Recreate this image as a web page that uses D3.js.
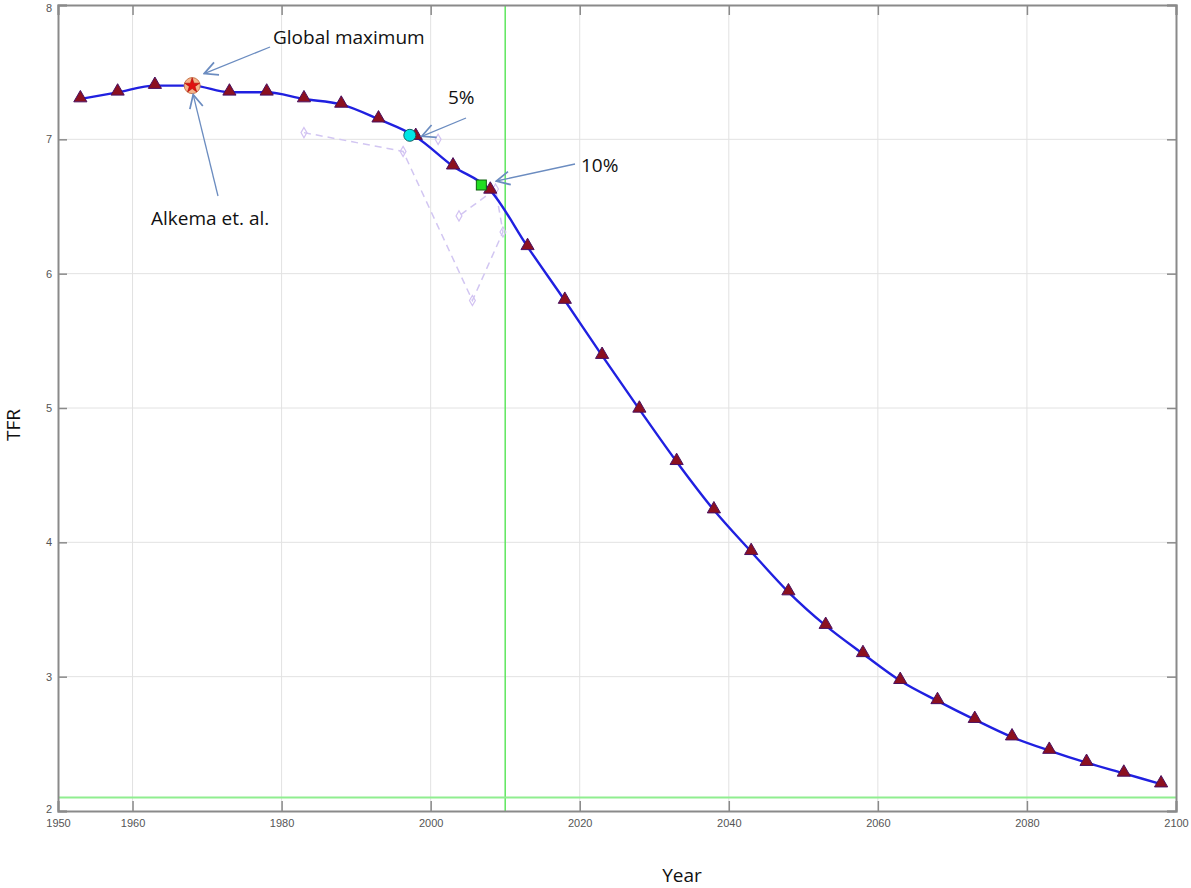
<!DOCTYPE html>
<html><head><meta charset="utf-8">
<script src="https://cdn.jsdelivr.net/npm/d3@7"></script>
<style>body{margin:0;background:#fff}svg{display:block}</style>
</head><body><svg id="c" width="1191" height="888"></svg>
<script>
const years = [1953,1958,1963,1968,1973,1978,1983,1988,1993,1998,2003,2008,2013,2018,2023,2028,2033,2038,2043,2048,2053,2058,2063,2068,2073,2078,2083,2088,2093,2098];
const tfr = [7.3,7.35,7.4,7.4,7.35,7.35,7.3,7.26,7.15,7.02,6.8,6.62,6.2,5.8,5.39,4.99,4.6,4.24,3.93,3.63,3.38,3.17,2.97,2.82,2.68,2.55,2.45,2.36,2.28,2.2];
const obsYears = [1983,1996.3,2005.6,2009.7,2008.7,2003.8];
const obsTfr = [7.05,6.91,5.8,6.31,6.63,6.43];
const loneYear = [2001], loneTfr = [7.0];
const xTicks = [1950,1960,1980,2000,2020,2040,2060,2080,2100];
const yTicks = [2,3,4,5,6,7,8];
const markGlobal = {year:1968, tfr:7.4};
const mark5 = {year:1997.2, tfr:7.03};
const mark10 = {year:2006.8, tfr:6.66};
const refYear = 2010, refTfr = 2.1;

const svg = d3.select('#c');
const L=58, R=1176, T=5, B=811;
const x = d3.scaleLinear().domain([1950,2100]).range([L,R]);
const y = d3.scaleLinear().domain([2,8]).range([B,T]);

// grid
svg.append('g').selectAll('line').data(xTicks.slice(1,-1)).join('line')
  .attr('x1',d=>x(d)).attr('x2',d=>x(d)).attr('y1',T).attr('y2',B)
  .attr('stroke','#e2e2e2').attr('stroke-width',1);
svg.append('g').selectAll('line').data(yTicks.slice(1,-1)).join('line')
  .attr('y1',d=>y(d)).attr('y2',d=>y(d)).attr('x1',L).attr('x2',R)
  .attr('stroke','#e2e2e2').attr('stroke-width',1);

// reference lines
svg.append('line').attr('x1',x(refYear)).attr('x2',x(refYear)).attr('y1',T).attr('y2',B)
  .attr('stroke','#5ee65e').attr('stroke-width',1.5);
svg.append('line').attr('x1',L).attr('x2',R).attr('y1',y(refTfr)).attr('y2',y(refTfr))
  .attr('stroke','#90ee90').attr('stroke-width',2);

// axes
const ax = svg.append('g').attr('transform',`translate(0,${B})`)
  .call(d3.axisBottom(x).tickValues(xTicks).tickSize(-10).tickPadding(6).tickFormat(d3.format('d')));
const ax2 = svg.append('g').attr('transform',`translate(0,${T})`)
  .call(d3.axisTop(x).tickValues(xTicks).tickSize(-10).tickFormat(''));
const ay = svg.append('g').attr('transform',`translate(${L},0)`)
  .call(d3.axisLeft(y).tickValues(yTicks).tickSize(-9).tickPadding(6).tickFormat(d3.format('d')));
const ay2 = svg.append('g').attr('transform',`translate(${R},0)`)
  .call(d3.axisRight(y).tickValues(yTicks).tickSize(-9).tickFormat(''));
[ax,ax2,ay,ay2].forEach(g=>{
  g.selectAll('.domain').attr('stroke','#8a8a8a').attr('stroke-width',2);
  g.selectAll('.tick line').attr('stroke','#8a8a8a').attr('stroke-width',1.5);
  g.selectAll('text').attr('fill','#555').attr('font-family','Liberation Sans, Arial, sans-serif').attr('font-size',11);
});
ax.selectAll('text').attr('dy','0.9em');
ay.selectAll('.tick').filter(d=>d===8).select('text').attr('dy','0.55em');
ay.selectAll('.tick').filter(d=>d===2).select('text').attr('dy','0.1em');

// observed dashed series
const obs = obsYears.map((d,i)=>[d,obsTfr[i]]);
svg.append('path').datum(obs)
  .attr('d',d3.line().x(d=>x(d[0])).y(d=>y(d[1])))
  .attr('fill','none').attr('stroke','#d2c6f2').attr('stroke-width',1.5).attr('stroke-dasharray','7,5');
const allObs = obs.concat(loneYear.map((d,i)=>[d,loneTfr[i]]));
svg.append('g').selectAll('path').data(allObs).join('path')
  .attr('d',d3.symbol(d3.symbolDiamond,30))
  .attr('transform',d=>`translate(${x(d[0])},${y(d[1])})`)
  .attr('fill','none').attr('stroke','#d2c2f2').attr('stroke-width',1.2);

// main curve
const pts = years.map((d,i)=>[d,tfr[i]]);
svg.append('path').datum(pts)
  .attr('d',d3.line().curve(d3.curveMonotoneX).x(d=>x(d[0])).y(d=>y(d[1])))
  .attr('fill','none').attr('stroke','#2020e0').attr('stroke-width',2.4);
svg.append('g').selectAll('path').data(pts.filter(d=>d[0]!==markGlobal.year)).join('path')
  .attr('d',d3.symbol(d3.symbolTriangle,75))
  .attr('transform',d=>`translate(${x(d[0])},${y(d[1])-1})`)
  .attr('fill','#8c1020').attr('stroke','#4a1060').attr('stroke-width',1);

// special markers
svg.append('circle').attr('cx',x(markGlobal.year)).attr('cy',y(markGlobal.tfr)).attr('r',8)
  .attr('fill','#f5b48a').attr('stroke','#c87850').attr('stroke-width',1);
svg.append('path').attr('d',d3.symbol(d3.symbolStar,70))
  .attr('transform',`translate(${x(markGlobal.year)},${y(markGlobal.tfr)})`)
  .attr('fill','#e01010').attr('stroke','#a00000').attr('stroke-width',0.5);
svg.append('circle').attr('cx',x(mark5.year)).attr('cy',y(mark5.tfr)).attr('r',6)
  .attr('fill','#00e5e5').attr('stroke','#106060').attr('stroke-width',1);
svg.append('rect').attr('x',x(mark10.year)-5).attr('y',y(mark10.tfr)-5).attr('width',10).attr('height',10)
  .attr('fill','#22dd22').attr('stroke','#106010').attr('stroke-width',1);

// annotations
const defs = svg.append('defs');
defs.append('marker').attr('id','ah').attr('viewBox','0 0 12 12').attr('refX',11).attr('refY',6)
  .attr('markerWidth',16).attr('markerHeight',16).attr('markerUnits','userSpaceOnUse').attr('orient','auto')
  .append('path').attr('d','M1,1 L11,6 L1,11').attr('fill','none').attr('stroke','#6b8cc0').attr('stroke-width',1.3);
const arrows = [
  [270,47,x(markGlobal.year)+12,y(markGlobal.tfr)-12],
  [218,196,x(markGlobal.year)+1,y(markGlobal.tfr)+9],
  [466,118,x(mark5.year)+12,y(mark5.tfr)+1],
  [575,164,x(mark10.year)+15,y(mark10.tfr)-4]
];
svg.append('g').selectAll('line').data(arrows).join('line')
  .attr('x1',d=>d[0]).attr('y1',d=>d[1]).attr('x2',d=>d[2]).attr('y2',d=>d[3])
  .attr('stroke','#6b8cc0').attr('stroke-width',1.3).attr('marker-end','url(#ah)');
const labels = [["Global maximum",273,44],["Alkema et. al.",151,225],["5%",448,104],["10%",581,172]];
svg.append('g').selectAll('text').data(labels).join('text')
  .attr('x',d=>d[1]).attr('y',d=>d[2]).text(d=>d[0])
  .attr('font-family','Open Sans, Lato, sans-serif').attr('font-size',19).attr('fill','#111');

svg.append('text').attr('x',682).attr('y',882).attr('text-anchor','middle').text('Year')
  .attr('font-family','Open Sans, Lato, sans-serif').attr('font-size',19).attr('fill','#111');
svg.append('text').attr('transform','translate(20,425) rotate(-90)').attr('text-anchor','middle').text('TFR')
  .attr('font-family','Open Sans, Lato, sans-serif').attr('font-size',19).attr('fill','#111');
</script></body></html>
